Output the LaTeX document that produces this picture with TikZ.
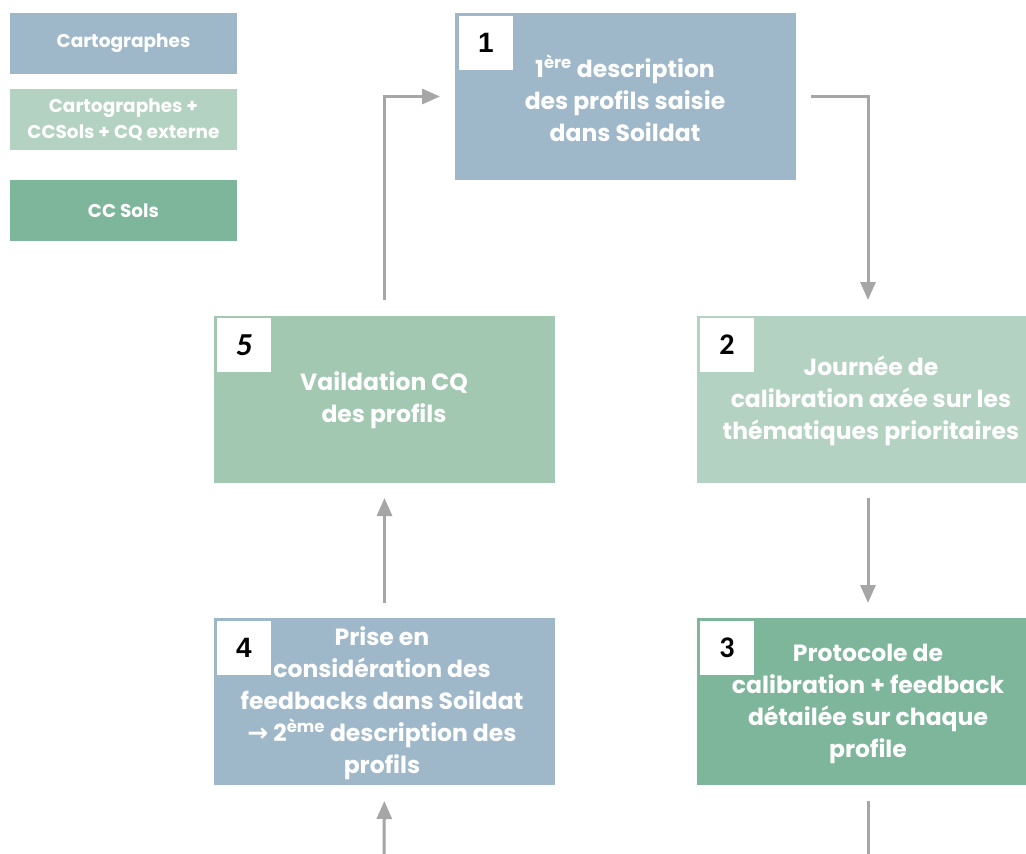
\documentclass[tikz,border=0pt]{standalone}
\usepackage{fontspec}
\setmainfont{Poppins}
\newfontfamily\numfont{Liberation Sans}
\newfontfamily\numfontb{Carlito}
\newfontfamily\symfont{DejaVu Sans}
\usetikzlibrary{arrows.meta,calc}
\definecolor{cblue}{HTML}{9EB8C9}
\definecolor{clight}{HTML}{B4D2C1}
\definecolor{cgreen}{HTML}{7DB69B}
\definecolor{cmid}{HTML}{A2C8B2}
\definecolor{carrow}{HTML}{A6A6A6}
\begin{document}
\begin{tikzpicture}[x=1pt,y=-1pt,
  box/.style={draw=none,rectangle,outer sep=0pt,inner sep=0pt,anchor=north west},
  bigbox/.style={box,minimum width=341pt,minimum height=167pt},
  rbox/.style={box,minimum width=329pt,minimum height=167pt},
  legbox/.style={box,minimum width=227pt,minimum height=61pt},
  numsq/.style={box,fill=white,minimum width=54pt,minimum height=54pt},
  numlab/.style={font=\fontsize{28}{28}\selectfont\numfont\bfseries,text=black},
  numlabb/.style={font=\fontsize{30}{30}\selectfont\numfontb\bfseries,text=black},
  btxt/.style={text=white,align=center,font=\fontsize{23.5}{32}\selectfont\bfseries,inner sep=0pt},
  ltxt/.style={text=white,align=center,font=\fontsize{18.5}{26}\selectfont\bfseries,inner sep=0pt},
  arr/.style={draw=carrow,line width=3pt,-{Triangle[length=18pt,width=15pt]}},
  ln/.style={draw=carrow,line width=3pt}
]
\useasboundingbox (0,0) rectangle (1026,854);
% legend
\node[legbox,fill=cblue] (l1) at (10,13) {};
\node[legbox,fill=clight] (l2) at (10,89) {};
\node[legbox,fill=cgreen] (l3) at (10,180) {};
\node[ltxt] (lt1) at (l1.center) {Cartographes};
\node[ltxt] (lt2) at (l2.center) {Cartographes + \\ CCSols + CQ externe};
\node[ltxt] (lt3) at (l3.center) {CC Sols};
% boxes
\node[bigbox,fill=cblue] (b1) at (455,13) {};
\node[bigbox,fill=cmid] (b5) at (214,316) {};
\node[rbox,fill=clight] (b2) at (697,316) {};
\node[bigbox,fill=cblue] (b4) at (214,618) {};
\node[rbox,fill=cgreen] (b3) at (697,618) {};
% number squares
\node[numsq] (n1) at (459,16) {};
\node[numsq] (n5) at (217,318) {};
\node[numsq] (n2) at (700,318) {};
\node[numsq] (n4) at (217,621) {};
\node[numsq] (n3) at (700,621) {};
\node[numlab] at (n1.center) {1};
\node[numlabb,font=\fontsize{32}{32}\selectfont\numfontb\bfseries\itshape] at (n5.center) {5};
\node[numlabb] at (n2.center) {2};
\node[numlab] at (n4.center) {4};
\node[numlabb] at (n3.center) {3};
% texts
\node[btxt] (t1) at (625,98) {1\textsuperscript{ère} description\\des profils saisie\\dans Soildat};
\node[btxt] (t5) at (384,400) {Vaildation CQ\\des profils};
\node[btxt] (t2) at (871,401) {Journée de\\calibration axée sur les\\thématiques prioritaires};
\node[btxt] (t4) at (382,703) {Prise en\\considération des\\feedbacks dans Soildat\\{\symfont\fontsize{25}{32}\selectfont →} 2\textsuperscript{ème} description des\\profils};
\node[btxt] (t3) at (868,704) {Protocole de\\calibration + feedback\\détailée sur chaque\\profile};
% connectors
\coordinate (e3) at (868,854);
\coordinate (e4) at (384,854);
\draw[arr,shorten <=16pt,shorten >=15pt] (b5.north) |- (b1.west);
\draw[arr,shorten <=15pt,shorten >=16pt] (b1.east) -| ($(b2.north)+(6.5,0)$);
\draw[arr,shorten <=15pt,shorten >=15pt] ($(b2.south)+(6.5,0)$) -- ($(b3.north)+(6.5,0)$);
\draw[ln,shorten <=16pt] ($(b3.south)+(6.5,0)$) -- (e3);
\draw[arr,shorten >=16pt] (e4) -- (b4.south);
\draw[arr,shorten <=15pt,shorten >=15pt] (b4.north) -- (b5.south);
\end{tikzpicture}
\end{document}
